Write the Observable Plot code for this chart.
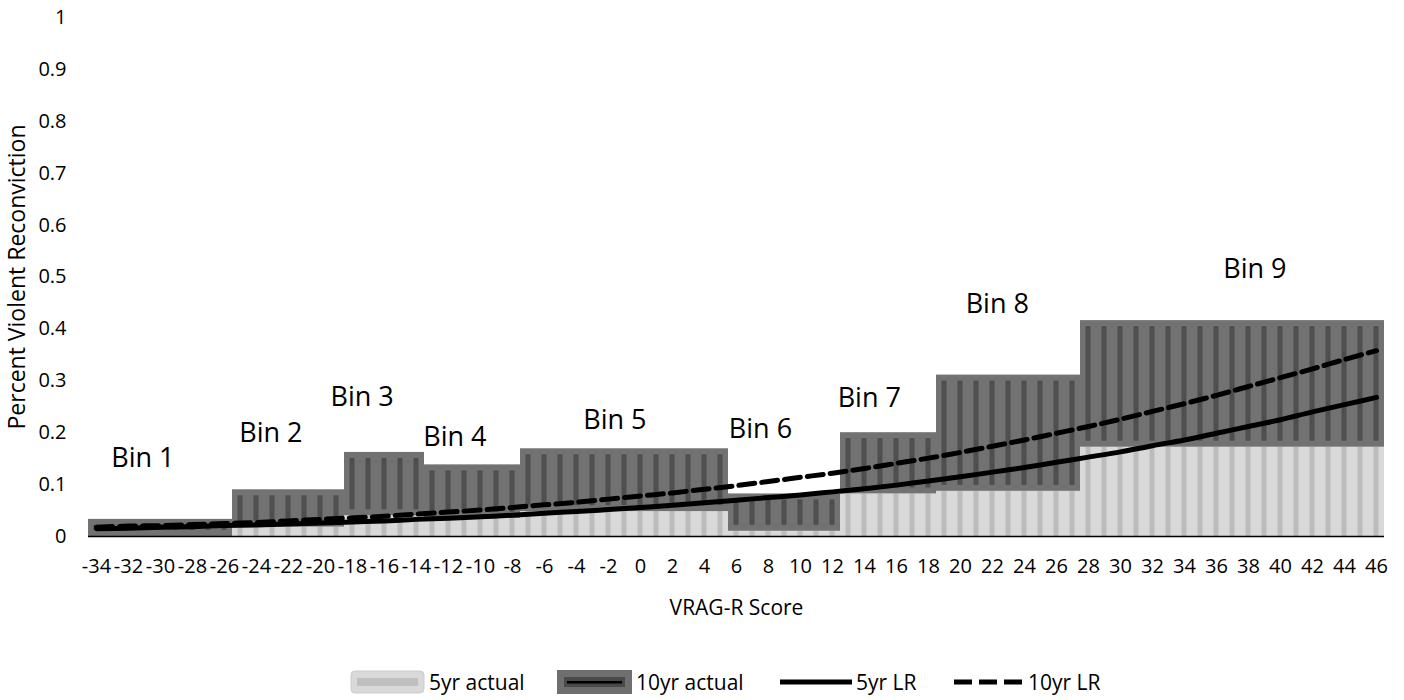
<!DOCTYPE html>
<html>
<head>
<meta charset="utf-8">
<script src="https://cdn.jsdelivr.net/npm/d3@7"></script>
<script src="https://cdn.jsdelivr.net/npm/@observablehq/plot@0.6"></script>
<style>
  html, body { margin: 0; padding: 0; background: #fff; }
  body { width: 1404px; height: 700px; position: relative; font-family: "Open Sans", sans-serif; color: #000; }
  #chart svg { display: block; }
  .legend { position: absolute; left: 0; top: 669px; width: 1404px; height: 26px; font-size: 21px; }
  .legend .item { position: absolute; top: 0; height: 26px; display: flex; align-items: center; white-space: nowrap; }
  .legend svg { display: block; margin-right: 4px; }
</style>
</head>
<body>
<div id="chart"></div>
<div class="legend">
  <span class="item" style="left:350px"><svg width="75" height="24"><rect x="1" y="1" width="73" height="22" rx="4" fill="#d9d9d9" stroke="#cccccc"/><rect x="7" y="8" width="61" height="8" fill="#bfbfbf"/></svg><span>5yr actual</span></span>
  <span class="item" style="left:557px"><svg width="75" height="24"><rect x="0" y="0" width="75" height="24" fill="#6f6f6f"/><rect x="7" y="7" width="61" height="10" fill="#4a4a4a"/><rect x="10" y="11" width="55" height="2.5" fill="#000"/></svg><span>10yr actual</span></span>
  <span class="item" style="left:780px"><svg width="72" height="24"><line x1="0" y1="12" x2="72" y2="12" stroke="#000" stroke-width="5"/></svg><span>5yr LR</span></span>
  <span class="item" style="left:954px"><svg width="70" height="24"><line x1="0" y1="12" x2="70" y2="12" stroke="#000" stroke-width="5" stroke-dasharray="18,7"/></svg><span>10yr LR</span></span>
</div>
<script>
// VRAG-R score bins and their observed violent reconviction rates
const binNames  = ["Bin 1", "Bin 2", "Bin 3", "Bin 4", "Bin 5", "Bin 6", "Bin 7", "Bin 8", "Bin 9"];
const binFirst  = [-34, -25, -18, -13, -7, 6, 13, 19, 28];
const binLast   = [-26, -19, -14, -8, 5, 12, 18, 27, 46];
const actual5yr  = [0.000, 0.018, 0.040, 0.035, 0.048, 0.010, 0.082, 0.087, 0.172];
const actual10yr = [0.033, 0.090, 0.162, 0.138, 0.169, 0.082, 0.200, 0.311, 0.416];

// where each bin name sits, in score / rate units
const binLabelScore = [-31.1, -23.1, -17.4, -11.6, -1.6, 7.5, 14.3, 22.3, 38.4];
const binLabelRate  = [0.150, 0.198, 0.268, 0.191, 0.224, 0.206, 0.266, 0.447, 0.514];

// logistic-regression predicted rates by score
const lrScores = [-34, -32, -30, -28, -26, -24, -22, -20, -18, -16, -14, -12, -10, -8, -6, -4, -2, 0, 2, 4,
                  6, 8, 10, 12, 14, 16, 18, 20, 22, 24, 26, 28, 30, 32, 34, 36, 38, 40, 42, 44, 46];
const lr5yr  = [0.015, 0.016, 0.018, 0.019, 0.021, 0.022, 0.024, 0.026, 0.028, 0.030, 0.033, 0.035, 0.038, 0.041,
                0.045, 0.048, 0.052, 0.056, 0.060, 0.065, 0.070, 0.075, 0.080, 0.086, 0.092, 0.099, 0.107, 0.115,
                0.124, 0.133, 0.143, 0.153, 0.163, 0.175, 0.186, 0.199, 0.212, 0.225, 0.240, 0.254, 0.268];
const lr10yr = [0.018, 0.020, 0.021, 0.023, 0.025, 0.027, 0.030, 0.033, 0.036, 0.039, 0.043, 0.047, 0.051, 0.056,
                0.061, 0.066, 0.072, 0.078, 0.084, 0.091, 0.098, 0.106, 0.114, 0.122, 0.131, 0.141, 0.151, 0.162,
                0.174, 0.186, 0.199, 0.212, 0.226, 0.241, 0.256, 0.272, 0.289, 0.306, 0.323, 0.341, 0.358];

const xTicks = [-34, -32, -30, -28, -26, -24, -22, -20, -18, -16, -14, -12, -10, -8, -6, -4, -2, 0, 2, 4,
                6, 8, 10, 12, 14, 16, 18, 20, 22, 24, 26, 28, 30, 32, 34, 36, 38, 40, 42, 44, 46];
const yTicks = [0, 0.1, 0.2, 0.3, 0.4, 0.5, 0.6, 0.7, 0.8, 0.9, 1];

// one bar per integer score, carrying its bin's rates
const scoreBars = binNames.flatMap((name, i) =>
  d3.range(binFirst[i], binLast[i] + 1).map(score => ({score, five: actual5yr[i], ten: actual10yr[i]})));
const lrRows = lrScores.map((score, i) => ({score, lr5: lr5yr[i], lr10: lr10yr[i]}));
const binLabels = binNames.map((name, i) => ({name, score: binLabelScore[i], rate: binLabelRate[i]}));

const left = d => d.score - 0.5;
const right = d => d.score + 0.5;

const chart = Plot.plot({
  width: 1404,
  height: 640,
  marginLeft: 88,
  marginRight: 20,
  marginTop: 17,
  marginBottom: 104,
  style: {fontFamily: '"Open Sans", sans-serif', fontSize: "20px", color: "#000", background: "#fff", overflow: "visible"},
  x: {domain: [-34.5, 46.5]},
  y: {domain: [0, 1]},
  marks: [
    // 5-year observed rate: light bars with a darker centre stripe
    Plot.rectY(scoreBars, {x1: left, x2: right, y1: 0, y2: "five", fill: "#d9d9d9"}),
    Plot.rectY(scoreBars, {x1: left, x2: right, y1: 0, y2: "five", fill: "#bcbcbc", insetLeft: 5.5, insetRight: 5.5}),
    // 10-year observed rate, stacked from the 5-year rate upward
    Plot.rectY(scoreBars, {x1: left, x2: right, y1: "five", y2: "ten", fill: "#727272"}),
    Plot.rectY(scoreBars, {x1: left, x2: right, y1: "five", y2: "ten", fill: "#4e4e4e",
                           insetLeft: 5.5, insetRight: 5.5, insetTop: 6, insetBottom: 6}),
    Plot.ruleY([0], {stroke: "#000", strokeWidth: 1.5}),
    Plot.axisY({ticks: yTicks, tickFormat: d => String(d), tickSize: 0, tickPadding: 22, label: null,
                line: true, stroke: "#000", strokeWidth: 1.5, fontSize: 20}),
    Plot.axisX({ticks: xTicks, tickFormat: d => String(d), tickSize: 0, tickPadding: 22, label: null, fontSize: 20}),
    // predicted curves
    Plot.line(lrRows, {x: "score", y: "lr5", stroke: "#000", strokeWidth: 5, curve: "catmull-rom"}),
    Plot.line(lrRows, {x: "score", y: "lr10", stroke: "#000", strokeWidth: 5, strokeDasharray: "16,7", curve: "catmull-rom"}),
    Plot.text(binLabels, {x: "score", y: "rate", text: "name", fontSize: 27, fill: "#000"}),
    Plot.text(["VRAG-R Score"], {frameAnchor: "bottom", dy: 72, lineAnchor: "middle", textAnchor: "middle",
                                 text: d => d, fontSize: 21, fill: "#000"}),
    Plot.text(["Percent Violent Reconviction"], {frameAnchor: "left", dx: -71, rotate: -90, textAnchor: "middle",
                                                 lineAnchor: "middle", text: d => d, fontSize: 23, fill: "#000"})
  ]
});
document.getElementById("chart").append(chart);
</script>
</body>
</html>
